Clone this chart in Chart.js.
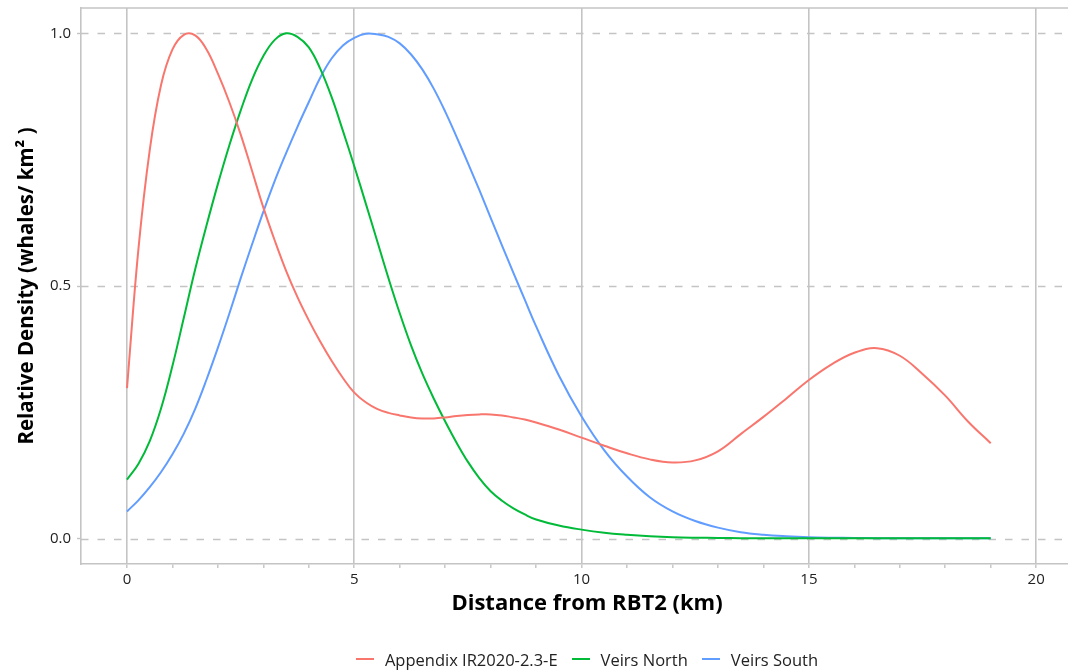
<!DOCTYPE html>
<html>
<head>
<meta charset="utf-8">
<script src="https://cdn.jsdelivr.net/npm/chart.js@4.4.1/dist/chart.umd.min.js"></script>
<style>
  html, body { margin: 0; padding: 0; background: #fff; overflow: hidden; }
  #wrap { position: relative; width: 1068px; height: 671px; overflow: hidden; }
  #c { position: absolute; left: 0; top: 0; }
  #legend { position: absolute; left: 81px; width: 1012px; top: 648px; height: 22px;
    display: flex; justify-content: center; align-items: center;
    font-family: "Open Sans", Lato, sans-serif; font-size: 16.5px; color: #222; }
  .item { display: flex; align-items: center; margin: 0 7px; }
  .sw { width: 18px; height: 2px; margin-right: 11px; }
</style>
</head>
<body>
<div id="wrap">
  <canvas id="c" width="1093" height="671"></canvas>
  <div id="legend"></div>
</div>
<script>
// Distance from RBT2 (km)
const distanceKm = [0, 0.25, 0.5, 0.75, 1.0, 1.25, 1.5, 1.75, 2.0, 2.25, 2.5, 2.75, 3.0, 3.25, 3.5, 3.75,
  4.0, 4.25, 4.5, 4.75, 5.0, 5.25, 5.5, 5.75, 6.0, 6.25, 6.5, 6.75, 7.0, 7.25, 7.5, 7.75,
  8.0, 8.25, 8.5, 8.75, 9.0, 9.5, 10, 10.5, 11, 11.5, 12, 12.5, 13, 13.5,
  14, 14.5, 15, 15.5, 16, 16.5, 17, 17.5, 18, 18.5, 19];

const appendixIR = [0.298, 0.572, 0.769, 0.898, 0.968, 0.997, 0.996, 0.968, 0.920, 0.864, 0.800, 0.728, 0.655, 0.590, 0.530, 0.478,
  0.432, 0.390, 0.352, 0.318, 0.289, 0.270, 0.257, 0.249, 0.244, 0.240, 0.238, 0.238, 0.240, 0.243, 0.245, 0.246,
  0.246, 0.244, 0.240, 0.236, 0.230, 0.216, 0.200, 0.184, 0.169, 0.157, 0.151, 0.155, 0.173, 0.207,
  0.241, 0.277, 0.314, 0.345, 0.368, 0.377, 0.362, 0.326, 0.283, 0.232, 0.189];

const veirsNorth = [0.117, 0.148, 0.193, 0.258, 0.342, 0.437, 0.533, 0.620, 0.702, 0.778, 0.847, 0.908, 0.955, 0.987, 1.0, 0.993,
  0.972, 0.930, 0.874, 0.807, 0.737, 0.664, 0.590, 0.516, 0.446, 0.382, 0.326, 0.277, 0.232, 0.190, 0.152, 0.120,
  0.094, 0.075, 0.060, 0.048, 0.038, 0.026, 0.018, 0.012, 0.008, 0.005, 0.003, 0.002, 0.0015, 0.001,
  0.001, 0.001, 0.001, 0.001, 0.001, 0.001, 0.001, 0.001, 0.001, 0.001, 0.001];

const veirsSouth = [0.054, 0.076, 0.102, 0.132, 0.167, 0.208, 0.257, 0.315, 0.378, 0.445, 0.515, 0.582, 0.647, 0.708, 0.763, 0.815,
  0.864, 0.912, 0.950, 0.976, 0.991, 0.999, 0.998, 0.993, 0.980, 0.958, 0.928, 0.890, 0.845, 0.795, 0.743, 0.690,
  0.635, 0.580, 0.526, 0.473, 0.420, 0.323, 0.242, 0.175, 0.123, 0.082, 0.054, 0.035, 0.022, 0.013,
  0.008, 0.005, 0.003, 0.002, 0.0015, 0.001, 0.001, 0.001, 0.001, 0.001, 0.001];

const seriesNames = ["Appendix IR2020-2.3-E", "Veirs North", "Veirs South"];
const seriesColors = ["#F8766D", "#00BA38", "#619CFF"];
const yTickValues = [0, 0.5, 1.0];
const xTickValues = [0,1,2,3,4,5,6,7,8,9,10,11,12,13,14,15,16,17,18,19,20];
const xLabelEvery = 5;

const FONT = '"Open Sans", Lato, sans-serif';
const GRID = '#c4c4c4';

const allSeries = [appendixIR, veirsNorth, veirsSouth];
const datasets = allSeries.map((vals, i) => ({
  label: seriesNames[i],
  data: distanceKm.map((x, j) => ({ x: x, y: vals[j] })),
  borderColor: seriesColors[i],
  backgroundColor: seriesColors[i],
  borderWidth: 2,
  pointRadius: 0,
  fill: false,
  tension: 0.4
}));

const dashedY = {
  id: 'dashedY',
  beforeDatasetsDraw(chart) {
    const { ctx, chartArea, scales } = chart;
    ctx.save();
    ctx.strokeStyle = GRID;
    ctx.lineWidth = 1.6;
    ctx.setLineDash([7.5, 9]);
    yTickValues.forEach(v => {
      const y = Math.round(scales.y.getPixelForValue(v)) + 0.5;
      ctx.beginPath();
      ctx.moveTo(chartArea.left, y);
      ctx.lineTo(chartArea.right, y);
      ctx.stroke();
    });
    ctx.setLineDash([]);
    ctx.beginPath();
    ctx.moveTo(chartArea.left, chartArea.top);
    ctx.lineTo(chartArea.right, chartArea.top);
    ctx.stroke();
    ctx.restore();
  }
};

new Chart(document.getElementById('c'), {
  type: 'line',
  data: { datasets },
  options: {
    responsive: false,
    animation: false,
    layout: { padding: { top: 8, left: 0, right: 0, bottom: 0 } },
    plugins: { legend: { display: false }, tooltip: { enabled: false } },
    scales: {
      x: {
        type: 'linear',
        min: -1.012,
        max: 21.25,
        afterBuildTicks(scale) { scale.ticks = xTickValues.map(v => ({ value: v })); },
        afterFit(scale) { scale.height = 107; scale.paddingLeft = 0; scale.paddingRight = 0; },
        ticks: {
          autoSkip: false,
          maxRotation: 0,
          padding: 3,
          color: '#222',
          font: { family: FONT, size: 15 },
          callback: (v) => (v % xLabelEvery === 0 ? String(v) : '')
        },
        grid: {
          color: (c) => (c.tick && c.tick.value % xLabelEvery === 0 ? GRID : 'rgba(0,0,0,0)'),
          lineWidth: 1.6,
          tickLength: 4,
          tickColor: GRID,
          tickWidth: 1.4
        },
        border: { display: true, color: GRID, width: 1.6 },
        title: {
          display: true,
          text: 'Distance from RBT2 (km)',
          color: '#000',
          font: { family: FONT, size: 22, weight: 'bold', lineHeight: 1.2 },
          padding: { top: 0, bottom: 54 }
        }
      },
      y: {
        type: 'linear',
        min: -0.05,
        max: 1.05,
        afterBuildTicks(scale) { scale.ticks = yTickValues.map(v => ({ value: v })); },
        afterFit(scale) { scale.width = 81; scale.paddingTop = 0; scale.paddingBottom = 0; },
        ticks: {
          padding: 6,
          color: '#222',
          font: { family: FONT, size: 15 },
          callback: (v) => Number(v).toFixed(1)
        },
        grid: {
          drawOnChartArea: false,
          tickLength: 4,
          tickColor: GRID,
          tickWidth: 1.4
        },
        border: { display: true, color: GRID, width: 1.6 },
        title: {
          display: true,
          text: 'Relative Density (whales/ km\u00B2 )',
          color: '#000',
          font: { family: FONT, size: 20.5, weight: 'bold', lineHeight: 1.2 },
          padding: { top: 15, bottom: 0 }
        }
      }
    }
  },
  plugins: [dashedY]
});

const legend = document.getElementById('legend');
seriesNames.forEach((name, i) => {
  const it = document.createElement('div');
  it.className = 'item';
  const sw = document.createElement('span');
  sw.className = 'sw';
  sw.style.background = seriesColors[i];
  const tx = document.createElement('span');
  tx.textContent = name;
  it.appendChild(sw); it.appendChild(tx);
  legend.appendChild(it);
});
</script>
</body>
</html>
